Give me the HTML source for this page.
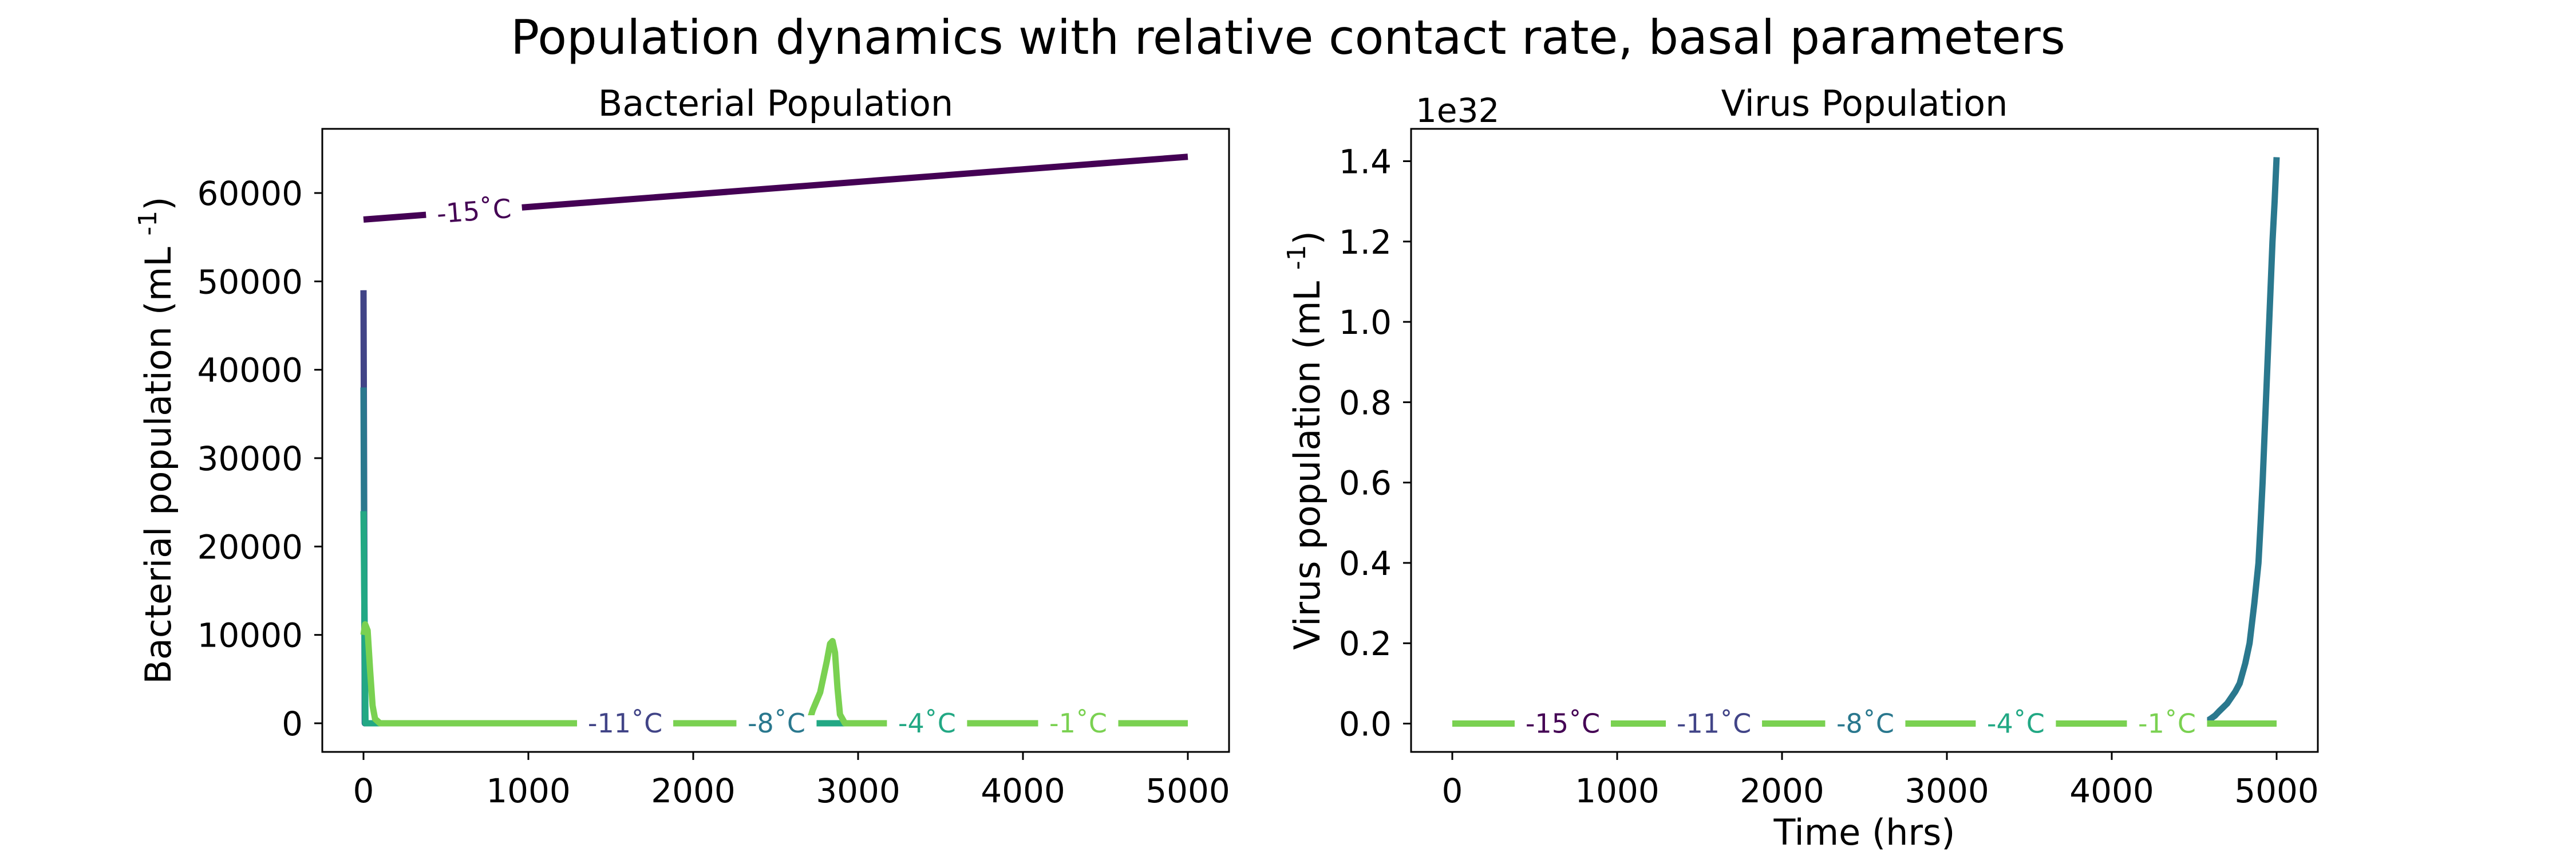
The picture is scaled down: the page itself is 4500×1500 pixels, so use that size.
<!DOCTYPE html>
<html><head><meta charset="utf-8"><style>
html,body{margin:0;padding:0;background:#fff}
svg{display:block}
text{font-family:"DejaVu Sans","Liberation Sans",sans-serif}
</style></head><body>
<svg id="fig" width="4500" height="1500" viewBox="0 0 4500 1500" xmlns="http://www.w3.org/2000/svg">
<rect width="4500" height="1500" fill="#fff"/>
<text x="2250" y="94" font-size="83" text-anchor="middle">Population dynamics with relative contact rate, basal parameters</text>
<g id="left"></g>
<g id="right"></g>
</svg>
<script>
const xTicks = [0,1000,2000,3000,4000,5000];
const tempLabels = ["-15˚C","-11˚C","-8˚C","-4˚C","-1˚C"];
const colors = ["#440154","#414487","#2a788e","#22a884","#7ad151"];
const labelX = [670,1587,2505,3418,4335];

// Bacterial series: [time, value]
const bac15 = [[0,57000],[5000,64100]];
const bac11 = [[0,49000],[8,0],[5000,0]];
const bac8  = [[0,38000],[8,0],[5000,0]];
const bac4  = [[0,24000],[12,0],[5000,0]];
const bac1  = [[0,10000],[10,11200],[25,10500],[40,6000],[55,2000],[70,500],[100,0],[2700,0],[2725,1500],[2770,3500],[2810,7000],[2830,9000],[2845,9300],[2860,8000],[2875,4000],[2890,1000],[2920,0],[5000,0]];
const bacYTicks = [0,10000,20000,30000,40000,50000,60000];
const bacYTickLabels = ["0","10000","20000","30000","40000","50000","60000"];

// Virus series (units of 1e32)
const vir15 = [[0,0],[5000,0]];
const vir11 = [[0,0],[5000,0]];
const vir8  = [[0,0],[4550,0],[4600,0.012],[4627,0.02],[4650,0.03],[4700,0.05],[4750,0.08],[4776,0.1],[4810,0.15],[4836,0.2],[4865,0.3],[4890,0.4],[4903,0.5],[4915,0.6],[4925,0.7],[4935,0.8],[4945,0.9],[4955,1.0],[4965,1.1],[4975,1.2],[4988,1.3],[5000,1.41]];
const vir4  = [[0,0],[5000,0]];
const vir1  = [[0,0],[5000,0]];
const virYTicks = [0,0.2,0.4,0.6,0.8,1.0,1.2,1.4];
const virYTickLabels = ["0.0","0.2","0.4","0.6","0.8","1.0","1.2","1.4"];

const NS="http://www.w3.org/2000/svg";
function mk(tag,attrs,parent){const e=document.createElementNS(NS,tag);for(const k in attrs)e.setAttribute(k,attrs[k]);parent.appendChild(e);return e;}

function panel(g,L,R,T,B,xmin,xmax,ymin,ymax,series,yt,ytl,title,ylabel,ylx,showXLabel,offset,labelOnLine){
  const sx=v=>L+(v-xmin)/(xmax-xmin)*(R-L);
  const sy=v=>B-(v-ymin)/(ymax-ymin)*(B-T);
  series.forEach((s,i)=>{
    const p=mk('polyline',{points:s.map(d=>sx(d[0])+','+sy(d[1])).join(' '),fill:'none',stroke:colors[i],'stroke-width':11,'stroke-linejoin':'round'},g);
    
    
  });
  series.forEach((s,i)=>{
    const xv=labelX[i];
    const yv=labelOnLine(s,xv);
    const cx=sx(xv), cy=sy(yv);
    let ang=0;
    if(s.length===2){const dy=sy(s[1][1])-sy(s[0][1]);const dx=sx(s[1][0])-sx(s[0][0]);ang=Math.atan2(dy,dx)*180/Math.PI;}
    const lg=mk('g',{transform:`translate(${cx},${cy}) rotate(${ang})`},g);
    
    
    const w=tempLabels[i].length>4?168:140;
    mk('rect',{x:-w/2,y:-14,width:w,height:28,fill:'#fff'},lg);
    const t=mk('text',{x:0,y:16,'font-size':46,'text-anchor':'middle',fill:colors[i]},lg);
    t.textContent=tempLabels[i];
  });
  const fr=mk('rect',{x:L,y:T,width:R-L,height:B-T,fill:'none',stroke:'#000','stroke-width':3},g);
  
  
  xTicks.forEach(v=>{
    mk('line',{x1:sx(v),x2:sx(v),y1:B,y2:B+14,stroke:'#000','stroke-width':3},g);
    const t=mk('text',{x:sx(v),y:B+88,'font-size':58,'text-anchor':'middle'},g);
    
    
    t.textContent=v;
  });
  yt.forEach((v,i)=>{
    mk('line',{x1:L-14,x2:L,y1:sy(v),y2:sy(v),stroke:'#000','stroke-width':3},g);
    const t=mk('text',{x:L-34,y:sy(v)+21,'font-size':58,'text-anchor':'end'},g);
    
    
    t.textContent=ytl[i];
  });
  const tt=mk('text',{x:(L+R)/2,y:202,'font-size':62,'text-anchor':'middle'},g);
  
  
  tt.textContent=title;
  const yl=mk('text',{x:0,y:0,'font-size':62,'text-anchor':'middle',transform:`translate(${ylx},${(T+B)/2}) rotate(-90)`},g);
  
  
  yl.innerHTML=ylabel;
  if(showXLabel){
    const xl=mk('text',{x:(L+R)/2,y:1475,'font-size':62,'text-anchor':'middle'},g);
    
    
    xl.textContent='Time (hrs)';
  }
  if(offset){
    const o=mk('text',{x:L+8,y:213,'font-size':58},g);
    
    
    o.textContent=offset;
  }
}
function interp(s,x){for(let k=0;k<s.length-1;k++){if(x>=s[k][0]&&x<=s[k+1][0]){const f=(x-s[k][0])/(s[k+1][0]-s[k][0]);return s[k][1]+f*(s[k+1][1]-s[k][1]);}}return 0;}

panel(document.getElementById('left'),563,2147,225,1313,-250,5250,-3240,67260,
  [bac15,bac11,bac8,bac4,bac1],bacYTicks,bacYTickLabels,'Bacterial Population',
  'Bacterial population (mL  <tspan baseline-shift="super" font-size="44">-1</tspan>)',298,false,null,
  (s,x)=>s===bac15?interp(s,x):0);
panel(document.getElementById('right'),2465,4049,225,1313,-250,5250,-0.0705,1.4805,
  [vir15,vir11,vir8,vir4,vir1],virYTicks,virYTickLabels,'Virus Population',
  'Virus population (mL  <tspan baseline-shift="super" font-size="44">-1</tspan>)',2305,true,'1e32',
  (s,x)=>0);
</script>
</body></html>
